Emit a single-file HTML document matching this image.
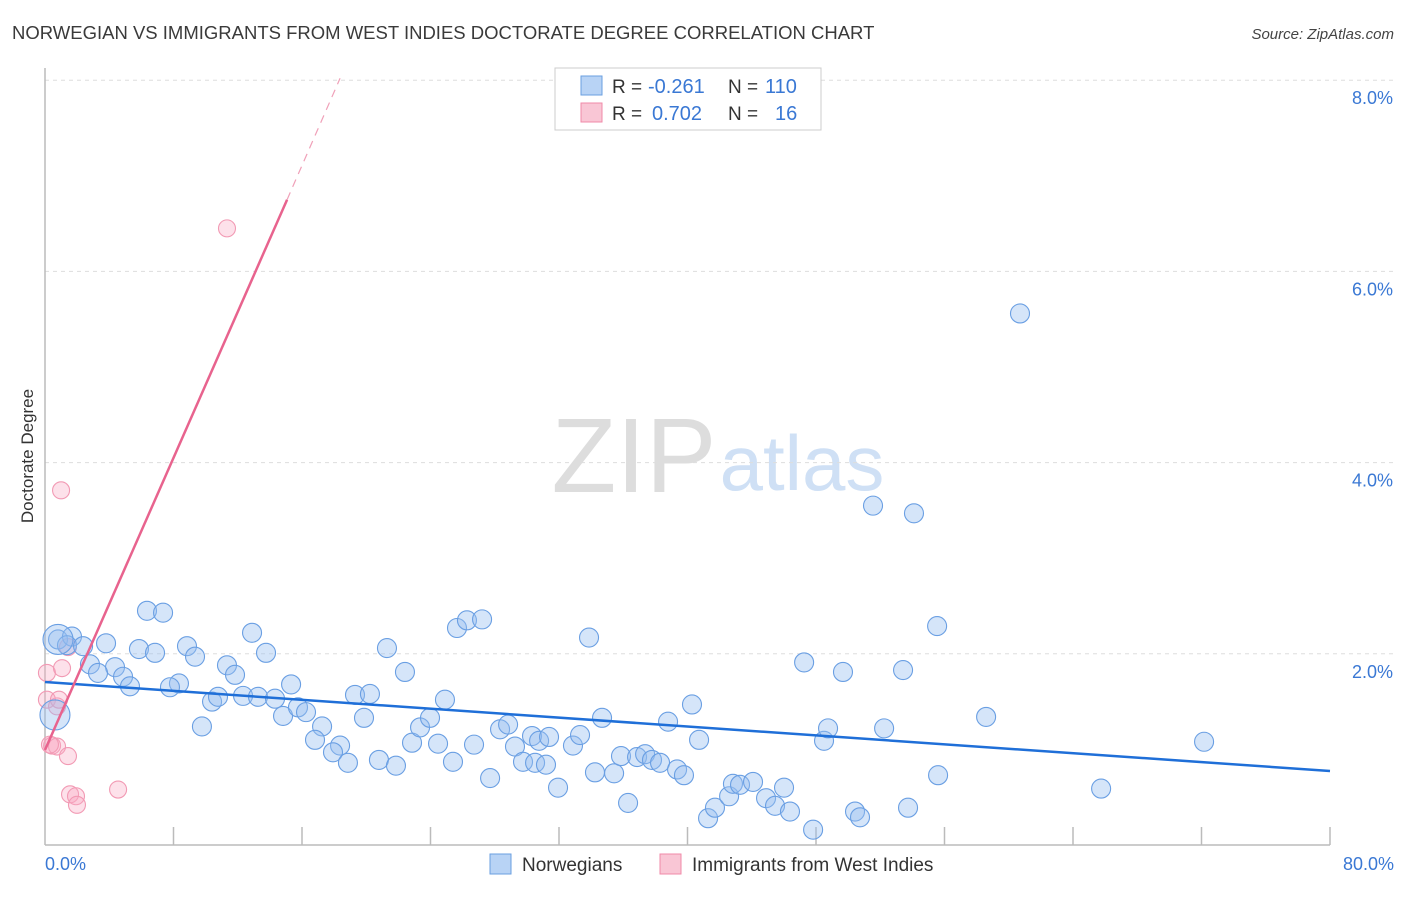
<!DOCTYPE html>
<html><head><meta charset="utf-8"><style>
body{margin:0;background:#fff;font-family:"Liberation Sans",sans-serif}
svg text{font-family:"Liberation Sans",sans-serif}
</style></head><body>
<svg id="chart" width="1406" height="892" xmlns="http://www.w3.org/2000/svg">
<text x="12" y="39" font-size="18.5" fill="#3a3a3a">NORWEGIAN VS IMMIGRANTS FROM WEST INDIES DOCTORATE DEGREE CORRELATION CHART</text>
<text x="1394" y="39" font-size="15" fill="#444" text-anchor="end" font-style="italic">Source: ZipAtlas.com</text>
<text transform="translate(33,456) rotate(-90)" font-size="17" fill="#333" text-anchor="middle">Doctorate Degree</text>
<g>
<text x="634" y="492" font-size="106" fill="#ddd" text-anchor="middle" font-family="Liberation Serif">ZIP</text>
<text x="802" y="490" font-size="78" fill="#cfe0f5" text-anchor="middle">atlas</text>
</g>
<g id="grid"></g><g id="axes"></g><g id="marks"></g>
<g>
<rect x="555" y="68" width="266" height="62" fill="#fff" stroke="#ccc"/>
<rect x="581" y="76" width="21" height="19" fill="#b8d3f5" stroke="#6a9fe0"/>
<rect x="581" y="103" width="21" height="19" fill="#f9c6d5" stroke="#f08aa8"/>
<text x="612" y="93" font-size="19" fill="#333">R =</text>
<text x="648" y="93" font-size="20" fill="#3a78d4">-0.261</text>
<text x="728" y="93" font-size="19" fill="#333">N =</text>
<text x="765" y="93" font-size="20" fill="#3a78d4">110</text>
<text x="612" y="120" font-size="19" fill="#333">R =</text>
<text x="652" y="120" font-size="20" fill="#3a78d4">0.702</text>
<text x="728" y="120" font-size="19" fill="#333">N =</text>
<text x="775" y="120" font-size="20" fill="#3a78d4">16</text>
</g>
<g>
<rect x="490" y="854" width="21" height="20" fill="#b8d3f5" stroke="#6a9fe0"/>
<text x="522" y="871" font-size="19" fill="#333">Norwegians</text>
<rect x="660" y="854" width="21" height="20" fill="#f9c6d5" stroke="#f08aa8"/>
<text x="692" y="871" font-size="19" fill="#333">Immigrants from West Indies</text>
</g>
</svg>
<script>
const yTicks=[2,4,6,8];
const yTickLabels=["2.0%","4.0%","6.0%","8.0%"];
const xTickLabels=["0.0%","80.0%"];
const blueX=[0.81,1.68,1.37,2.37,3.80,2.80,4.36,3.30,4.86,5.29,6.35,7.35,5.85,6.85,8.84,9.34,8.34,7.78,11.33,11.83,10.40,10.77,9.77,12.89,13.76,12.33,13.26,14.32,15.32,14.82,15.75,16.25,17.25,16.81,18.37,17.93,18.86,19.30,20.23,19.86,21.29,22.41,20.79,21.85,22.85,23.35,23.97,24.47,24.90,25.40,25.65,26.27,27.21,26.71,27.71,28.33,28.83,29.26,29.76,30.32,30.76,31.38,31.94,30.51,31.19,32.87,33.31,33.87,34.68,34.24,35.43,35.86,36.30,36.86,37.36,37.79,38.29,38.79,39.35,39.78,40.28,40.72,41.28,41.71,42.59,42.83,43.27,44.08,44.89,45.45,46.01,46.38,47.26,47.82,48.50,48.75,49.68,50.43,50.74,52.24,53.42,53.73,55.54,55.60,51.55,54.10,58.59,60.70,65.75,72.16];
const blueY=[2.15,2.18,2.09,2.08,2.11,1.89,1.86,1.80,1.76,1.66,2.45,2.43,2.05,2.01,2.08,1.97,1.69,1.65,1.88,1.78,1.50,1.55,1.24,2.22,2.01,1.56,1.55,1.53,1.68,1.35,1.44,1.39,1.24,1.10,1.04,0.97,0.86,1.57,1.58,1.33,2.06,1.81,0.89,0.83,1.07,1.23,1.33,1.06,1.52,0.87,2.27,2.35,2.36,1.05,0.70,1.21,1.26,1.03,0.87,1.14,1.09,1.13,0.60,0.86,0.84,1.04,1.15,2.17,1.33,0.76,0.75,0.93,0.44,0.92,0.95,0.89,0.86,1.29,0.79,0.73,1.47,1.10,0.28,0.39,0.51,0.64,0.63,0.66,0.49,0.41,0.60,0.35,1.91,0.16,1.09,1.22,1.81,0.35,0.29,1.22,1.83,0.39,2.29,0.73,3.55,3.47,1.34,5.56,0.59,1.08];
const pinkX=[0.12,0.12,1.06,0.75,1.43,0.44,0.75,1.43,1.56,1.93,1.99,4.55,1.00,11.33,0.87,0.31];
const pinkY=[1.80,1.52,1.85,1.45,2.07,1.04,1.03,0.93,0.53,0.51,0.42,0.58,3.71,6.45,1.52,1.05];
const bigX=[0.62,0.81];
const bigY=[1.36,2.15];
const blueTrend=[[0,1.705],[80,0.774]];
const pinkTrend=[[0,0.994],[15.07,6.75]];
const pinkDash=[[15.07,6.75],[18.37,8.02]];

const NS="http://www.w3.org/2000/svg";
const X=v=>45+v/80*1285;
const Y=v=>845-v*95.6;
function mk(t,a,p){const e=document.createElementNS(NS,t);for(const k in a)e.setAttribute(k,a[k]);p.appendChild(e);return e;}
const grid=document.getElementById('grid'),axes=document.getElementById('axes'),marks=document.getElementById('marks');
yTicks.forEach((t,i)=>{
 const l=mk('line',{x1:45,x2:1394,y1:Y(t),y2:Y(t),stroke:'#ddd','stroke-dasharray':'4,4'},grid);
 
 
 const tx=mk('text',{x:1393,y:Y(t)+24,'font-size':18,fill:'#3a78d4','text-anchor':'end'},axes);
 tx.textContent=yTickLabels[i];
 
 
});
const ax=mk('line',{x1:45,x2:1330,y1:845,y2:845,stroke:'#bbb','stroke-width':1.5},axes);


const ay=mk('line',{x1:45,x2:45,y1:68,y2:845,stroke:'#bbb','stroke-width':1.5},axes);


for(let k=1;k<=10;k++){
 const t=mk('line',{x1:X(k*8),x2:X(k*8),y1:845,y2:827,stroke:'#bbb','stroke-width':1.5},axes);
 
 
}
[[0,'start',45],[80,'end',1394]].forEach((d,i)=>{
 const t=mk('text',{x:d[2],y:870,'font-size':18,fill:'#3a78d4','text-anchor':d[1]},axes);
 t.textContent=xTickLabels[i];
 
 
});
function dots(xs,ys,r,fill,stroke,name){
 xs.forEach((x,i)=>{
  const c=mk('circle',{cx:X(x),cy:Y(ys[i]),r:r,fill:fill,stroke:stroke,'stroke-width':1.1},marks);
  
  
 });
}
dots(pinkX,pinkY,8.5,'rgba(248,170,195,0.35)','#f29ab4','west-indies-point');
dots(blueX,blueY,9.5,'rgba(150,190,240,0.4)','#6a9fe3','norwegian-point');
dots(bigX,bigY,15,'rgba(150,190,240,0.4)','#6a9fe3','norwegian-point-large');
function line(p,stroke,w,dash,name){
 const a={x1:X(p[0][0]),y1:Y(p[0][1]),x2:X(p[1][0]),y2:Y(p[1][1]),stroke:stroke,'stroke-width':w};
 if(dash)a['stroke-dasharray']=dash;
 const l=mk('line',a,marks);
 
 
}
line(blueTrend,'#1f6fd8',2.5,null,'norwegian-trendline');
line(pinkTrend,'#e8638e',2.5,null,'west-indies-trendline');
line(pinkDash,'#f0a0b8',1.2,'8,6','west-indies-trendline-extension');
</script>
</body></html>
